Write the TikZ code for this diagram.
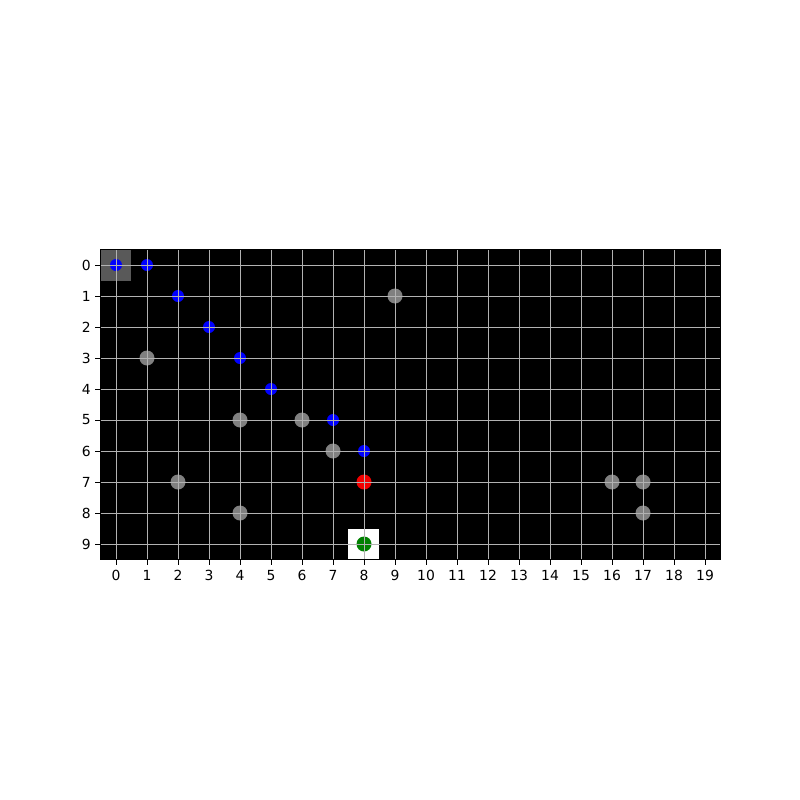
\documentclass[tikz,border=0pt]{standalone}
\usepackage{fontspec}
\setmainfont{DejaVu Sans}
\begin{document}
\begin{tikzpicture}[x=1pt,y=-1pt,
  gridline/.style={draw=gray!60!white,line width=1pt},
  tick/.style={draw=black,line width=0.9pt},
  ticklabel/.style={font=\fontsize{13.9}{16}\selectfont,inner sep=0pt},
  bluedot/.style={fill=blue},
  graydot/.style={fill=gray},
]
\useasboundingbox (0,0) rectangle (800,800);
\fill[white] (0,0) rectangle (800,800);
% plot area
\fill[black] (100,249.5) rectangle (720,559.5);
% highlighted cells
\fill[black!65!white] (100,249.5) rectangle (131,280.5);
\fill[white] (348,528.5) rectangle (379,559.5);
% gray dots
\foreach \r/\c in {1/9,3/1,5/4,5/6,6/7,7/2,8/4,7/16,7/17,8/17} {
  \fill[graydot] (116+31*\c,265+31*\r) circle (7.5);
}
% blue path dots
\foreach \r/\c in {0/0,0/1,1/2,2/3,3/4,4/5,5/7,6/8} {
  \fill[bluedot] (116+31*\c,265+31*\r) circle (6);
}
% red dot
\fill[red!95!black] (116+31*8,265+31*7) circle (7.5);
% green dot
\fill[green!50!black] (116+31*8,265+31*9) circle (7.5);
% grid (drawn above the dots)
\foreach \c in {0,...,19} {
  \draw[gridline] (116+31*\c,249.5) -- (116+31*\c,559.5);
}
\foreach \r in {0,...,9} {
  \draw[gridline] (100,265+31*\r) -- (720,265+31*\r);
}
% ticks and labels
\foreach \c in {0,...,19} {
  \draw[tick] (116+31*\c,559.5) -- (116+31*\c,564.5);
  \node[ticklabel,anchor=north] at (116+31*\c,570) {\c};
}
\foreach \r in {0,...,9} {
  \draw[tick] (100,265+31*\r) -- (95,265+31*\r);
  \node[ticklabel,anchor=east] at (91,265+31*\r) {\r};
}
% frame
\draw[black,line width=0.9pt] (100,249.5) rectangle (720,559.5);
\end{tikzpicture}
\end{document}
